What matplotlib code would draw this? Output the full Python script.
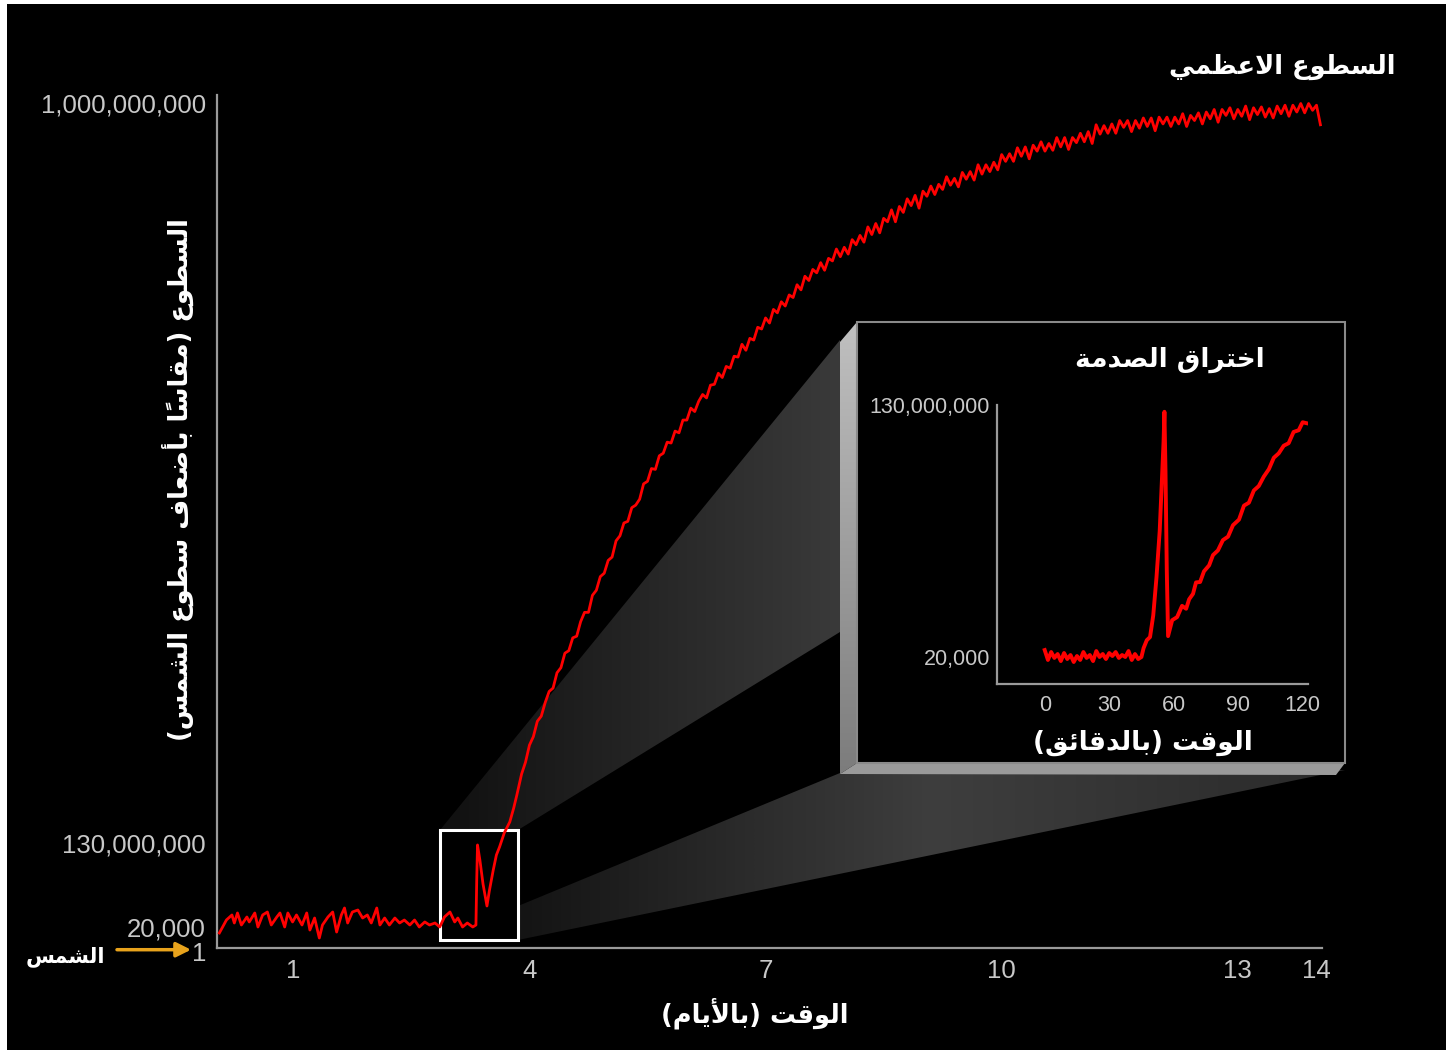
import numpy as np
import matplotlib
matplotlib.use('Agg')
import matplotlib.pyplot as plt
import matplotlib.transforms as mtransforms
from matplotlib.colors import LinearSegmentedColormap
from matplotlib.patches import Polygon, Rectangle

# ---- data (brightness in millions of suns) ----
quiet_days = [0.06, 0.15, 0.22, 0.25, 0.29, 0.34, 0.41, 0.44, 0.51, 0.55, 0.61, 0.67,
              0.72, 0.79, 0.83, 0.89, 0.93, 0.99, 1.04, 1.11, 1.17, 1.21, 1.27, 1.33,
              1.37, 1.44, 1.50, 1.55, 1.61, 1.65, 1.69, 1.75, 1.82, 1.88, 1.94, 1.99,
              2.06, 2.10, 2.16, 2.22, 2.29, 2.35, 2.41, 2.48, 2.54, 2.60, 2.67, 2.73,
              2.80, 2.86, 2.92, 2.99, 3.05, 3.09, 3.15, 3.21, 3.28, 3.32]
quiet_msun = [0.0143, 10.9, 18.6, 6.2, 21.7, 3.1, 15.5, 7.8, 21.7, 0.02, 18.6, 23.2,
              3.1, 15.5, 21.7, 0.02, 21.7, 7.8, 18.6, 3.1, 21.7, 0.0171, 13.9, 0.0095,
              3.1, 15.5, 23.2, 0.0152, 18.6, 29.4, 6.2, 23.2, 26.3, 13.9, 18.6, 6.2,
              29.4, 3.1, 13.9, 3.1, 13.9, 6.2, 10.8, 3.1, 10.8, 0.02, 7.8, 3.1,
              6.2, 0.02, 15.5, 23.2, 7.8, 13.9, 0.02, 6.2, 0.02, 3.1]

breakout_days = [3.33, 3.34, 3.37, 3.41, 3.46, 3.49, 3.54, 3.58, 3.62, 3.68, 3.75, 3.80, 3.84]
breakout_msun = [72.7, 126.9, 103.7, 66.5, 32.5, 55.7, 88.2, 111.4, 123.8, 141.8, 154.7, 171.1, 186.4]

rise_days = [3.90, 3.95, 4.00, 4.05, 4.10, 4.15, 4.20, 4.25, 4.30, 4.35, 4.40, 4.45,
             4.50, 4.55, 4.60, 4.65, 4.70, 4.75, 4.80, 4.85, 4.90, 4.95, 5.00, 5.05,
             5.10, 5.15, 5.20, 5.25, 5.30, 5.35, 5.40, 5.45, 5.50, 5.55, 5.60, 5.65,
             5.70, 5.75, 5.80, 5.85, 5.90, 5.95, 6.00, 6.05, 6.10, 6.15, 6.20, 6.25,
             6.30, 6.35, 6.40, 6.45, 6.50, 6.55, 6.60, 6.65, 6.70, 6.75, 6.80, 6.85,
             6.90, 6.95, 7.00, 7.05, 7.10, 7.15, 7.20, 7.25, 7.30, 7.35]
rise_msun = [211, 225, 245, 255, 273, 279, 295, 308, 312, 330, 336, 353,
             356, 371, 373, 390, 401, 401, 421, 427, 443, 447, 462, 466,
             485, 491, 506, 508, 524, 527, 534, 552, 555, 570, 569, 585,
             588, 601, 600, 614, 612, 627, 627, 641, 637, 649, 657, 653,
             668, 669, 682, 677, 690, 688, 702, 701, 716, 709, 723, 721,
             736, 734, 747, 741, 757, 753, 766, 761, 774, 771]

peak_days = [7.40, 7.45, 7.50, 7.55, 7.60, 7.65, 7.70, 7.75, 7.80, 7.85, 7.90, 7.95,
             8.00, 8.05, 8.10, 8.15, 8.20, 8.25, 8.30, 8.35, 8.40, 8.45, 8.50, 8.55,
             8.60, 8.65, 8.70, 8.75, 8.80, 8.85, 8.90, 8.95, 9.00, 9.05, 9.10, 9.15,
             9.20, 9.25, 9.30, 9.35, 9.40, 9.45, 9.50, 9.55, 9.60, 9.65, 9.70, 9.75,
             9.80, 9.85, 9.90, 9.95, 10.00, 10.05, 10.10, 10.15, 10.20, 10.25, 10.30, 10.35,
             10.40, 10.45, 10.50, 10.55, 10.60, 10.65, 10.70, 10.75, 10.80, 10.85, 10.90, 10.95,
             11.00, 11.05, 11.10, 11.15, 11.20, 11.25, 11.30, 11.35, 11.40, 11.45, 11.50, 11.55,
             11.60, 11.65, 11.70, 11.75, 11.80, 11.85, 11.90, 11.95, 12.00, 12.05, 12.10, 12.15,
             12.20, 12.25, 12.30, 12.35, 12.40, 12.45, 12.50, 12.55, 12.60, 12.65, 12.70, 12.75,
             12.80, 12.85, 12.90, 12.95, 13.00, 13.05, 13.10, 13.15, 13.20, 13.25, 13.30, 13.35,
             13.40, 13.45, 13.50, 13.55, 13.60, 13.65, 13.70, 13.75, 13.80, 13.85, 13.90, 13.95,
             14.00, 14.05]
peak_msun = [786, 780, 796, 791, 804, 800, 812, 803, 817, 814, 828, 819,
             830, 822, 839, 833, 844, 836, 854, 845, 858, 847, 864, 860,
             874, 860, 878, 871, 887, 879, 891, 876, 896, 890, 902, 892,
             904, 898, 913, 903, 911, 901, 918, 910, 919, 909, 927, 916,
             927, 919, 930, 921, 939, 931, 940, 931, 947, 937, 948, 934,
             950, 943, 954, 943, 952, 944, 959, 948, 959, 945, 959, 953,
             964, 954, 966, 952, 974, 963, 973, 964, 975, 964, 979, 971,
             979, 966, 979, 970, 982, 972, 982, 967, 983, 975, 983, 972,
             983, 975, 987, 972, 985, 979, 988, 975, 989, 981, 992, 977,
             992, 985, 994, 981, 992, 984, 996, 980, 994, 986, 995, 983,
             993, 982, 996, 987, 997, 984, 997, 989, 999, 988, 999, 991,
             997, 974]

# inset: shock breakout, time in minutes
inset_quiet_min = [0, 1.5, 3, 4.5, 6, 7.5, 9, 10.5, 12, 13.5, 15, 16.5, 18, 19.5, 21, 22.5,
                   24, 25.5, 27, 28.5, 30, 31.5, 33, 34.5, 36, 37.5, 39, 40.5, 42, 43.5, 45]
inset_quiet_msun = [3.6, 0.0178, 2.58, 0.0193, 1.56, 0.017, 2.07, 0.0185, 1.04, 0.0163, 0.53,
                    0.0178, 2.58, 0.0193, 1.04, 0.017, 3.09, 0.02, 1.56, 0.0185, 2.07, 0.53,
                    2.58, 0.0193, 1.04, 0.02, 3.09, 0.0178, 1.56, 0.0185, 0.02]
inset_flash_min = [46.0, 47.5, 49.0, 50.5, 52.0, 53.5, 54.5, 55.3, 55.7, 56.2, 56.8, 57.4]
inset_flash_msun = [4.6, 8.7, 10.3, 21.5, 41.0, 65.0, 90.6, 111.1, 126.5, 95.8, 44.6, 10.8]
inset_rise_min = [59.3, 61.6, 63.9, 65.8, 67.2, 69.0, 70.4, 72.3, 74.1, 76.5, 78.3, 80.6,
                  82.9, 85.3, 87.6, 90.4, 92.7, 95.0, 97.3, 99.6, 101.9, 104.3, 106.6, 108.9,
                  111.2, 113.5, 115.8, 118.2, 120.0, 121.9]
inset_rise_msun = [19.0, 20.6, 26.4, 24.9, 29.8, 32.6, 38.5, 38.7, 44.2, 47.3, 52.6, 55.0,
                   60.3, 62.1, 68.0, 70.9, 78.1, 79.6, 85.9, 88.2, 93.0, 96.9, 102.8, 105.1,
                   109.0, 110.3, 116.1, 117.0, 121.1, 120.6]

main_x_ticks = [1, 4, 7, 10, 13, 14]
main_y_ticks = [1e-6, 0.02, 130, 1000]
main_y_labels = ['1', '20,000', '130,000,000', '1,000,000,000']
inset_x_ticks = [0, 30, 60, 90, 120]
inset_y_ticks = [0.02, 130]
inset_y_labels = ['20,000', '130,000,000']
zoom_days = (2.86, 3.85)
zoom_msun = (0.0076, 145)

# the y axis is schematic: piecewise linear between the labelled values
main_knots = ([1e-6, 0.02, 130, 1000, 2000], [0, 21, 105, 845, 1695.6])
inset_knots = ([1e-6, 0.02, 130, 1000], [0, 27, 279, 1965])

# ---- Arabic text: shape letters and put them in visual order ----
FORMS = {
    'ء': (0xFE80, 1), 'آ': (0xFE81, 2), 'أ': (0xFE83, 2), 'ؤ': (0xFE85, 2), 'إ': (0xFE87, 2),
    'ئ': (0xFE89, 4), 'ا': (0xFE8D, 2), 'ب': (0xFE8F, 4), 'ة': (0xFE93, 2), 'ت': (0xFE95, 4),
    'ث': (0xFE99, 4), 'ج': (0xFE9D, 4), 'ح': (0xFEA1, 4), 'خ': (0xFEA5, 4), 'د': (0xFEA9, 2),
    'ذ': (0xFEAB, 2), 'ر': (0xFEAD, 2), 'ز': (0xFEAF, 2), 'س': (0xFEB1, 4), 'ش': (0xFEB5, 4),
    'ص': (0xFEB9, 4), 'ض': (0xFEBD, 4), 'ط': (0xFEC1, 4), 'ظ': (0xFEC5, 4), 'ع': (0xFEC9, 4),
    'غ': (0xFECD, 4), 'ف': (0xFED1, 4), 'ق': (0xFED5, 4), 'ك': (0xFED9, 4), 'ل': (0xFEDD, 4),
    'م': (0xFEE1, 4), 'ن': (0xFEE5, 4), 'ه': (0xFEE9, 4), 'و': (0xFEED, 2), 'ى': (0xFEEF, 2),
    'ي': (0xFEF1, 4),
}
LAM_ALEF = {'آ': 0xFEF5, 'أ': 0xFEF7, 'إ': 0xFEF9, 'ا': 0xFEFB}
MARKS = set(chr(c) for c in range(0x064B, 0x0653))
MIRROR = {'(': ')', ')': '('}


def arabic(text):
    toks = []
    i = 0
    while i < len(text):
        ch = text[i]
        if ch in MARKS and toks:
            toks[-1][3] += ch
        elif ch == 'ل' and i + 1 < len(text) and text[i + 1] in LAM_ALEF:
            toks.append([LAM_ALEF[text[i + 1]], 2, None, ''])
            i += 1
        elif ch in FORMS:
            base, n = FORMS[ch]
            toks.append([base, n, None, ''])
        else:
            toks.append([None, 0, MIRROR.get(ch, ch), ''])
        i += 1
    out = []
    for k, (base, n, ch, marks) in enumerate(toks):
        if base is None:
            out.append(ch + marks)
            continue
        prev_joins = n >= 2 and k > 0 and toks[k - 1][1] == 4
        next_joins = n == 4 and k + 1 < len(toks) and toks[k + 1][1] >= 2
        if prev_joins:
            form = 3 if next_joins else 1
        else:
            form = 2 if next_joins else 0
        out.append(chr(base + form) + marks)
    return ''.join(reversed(out))


def piecewise(knots):
    vals, pos = knots
    fwd = lambda v: np.interp(v, vals, pos)
    inv = lambda p: np.interp(p, pos, vals)
    return fwd, inv


def gradient_fill(ax, verts, colors, vertical=False):
    poly = Polygon(verts, closed=True, facecolor='none', edgecolor='none')
    ax.add_patch(poly)
    xs = [v[0] for v in verts]
    ys = [v[1] for v in verts]
    grad = np.linspace(0, 1, 256).reshape(1, -1)
    if vertical:
        grad = grad.T
    cmap = LinearSegmentedColormap.from_list('beam', colors)
    im = ax.imshow(grad, cmap=cmap, aspect='auto', interpolation='bicubic',
                   extent=(min(xs), max(xs), max(ys), min(ys)), zorder=1)
    im.set_clip_path(poly)


NUM_FONT = ['Liberation Sans', 'DejaVu Sans']
AR_FONT = ['DejaVu Sans']
TICK_C = '#c8c8c8'
SPINE_C = '#9a9a9a'

fig = plt.figure(figsize=(14.56, 10.59), dpi=100, facecolor='white')

# background layer in pixel coordinates
bg = fig.add_axes([0, 0, 1, 1], zorder=0)
bg.set_xlim(0, 1456)
bg.set_ylim(1059, 0)
bg.axis('off')
bg.add_patch(Rectangle((7, 4), 1439, 1046, facecolor='black', edgecolor='none', zorder=0))
gradient_fill(bg, [(440, 830), (840, 340), (840, 632), (518, 830)], ['#101010', '#3a3a3a'])
gradient_fill(bg, [(518, 906), (840, 773), (1345, 770), (518, 940)],
              ['#141414', '#3e3e3e', '#2a2a2a'])
gradient_fill(bg, [(840, 342), (857, 322), (857, 763), (840, 774)], ['#c0c0c0', '#7c7c7c'],
              vertical=True)
bg.add_patch(Polygon([(840, 774), (857, 763), (1345, 763), (1336, 775)], closed=True,
                     facecolor='#9a9a9a', edgecolor='none', zorder=2))
bg.add_patch(Rectangle((857, 322), 488, 441, facecolor='black', edgecolor='#8a8a8a',
                       lw=1.5, zorder=2))
bg.set_xlim(0, 1456)
bg.set_ylim(1059, 0)

# main chart
ax = fig.add_axes([0.14904, 0.10482, 0.75893, 0.80548], zorder=1)
ax.set_facecolor('none')
ax.set_yscale('function', functions=piecewise(main_knots))
ax.plot(quiet_days + breakout_days + rise_days + peak_days,
        quiet_msun + breakout_msun + rise_msun + peak_msun,
        color='#ff0000', lw=2.0, zorder=3, solid_joinstyle='round')
ax.add_patch(Rectangle((zoom_days[0], zoom_msun[0]), zoom_days[1] - zoom_days[0],
                       zoom_msun[1] - zoom_msun[0], facecolor='none', edgecolor='white',
                       lw=2.2, zorder=2))
ax.set_xlim(0.03, 14.07)
ax.set_ylim(1e-6, 1009)
ax.set_xticks(main_x_ticks)
ax.set_xticklabels([str(t) for t in main_x_ticks], family=NUM_FONT, fontsize=18.5, color=TICK_C)
ax.set_yticks(main_y_ticks)
ax.set_yticklabels(main_y_labels, family=NUM_FONT, fontsize=18.5, color=TICK_C)
ax.minorticks_off()
ax.tick_params(axis='x', length=0, pad=8)
ax.tick_params(axis='y', length=0, pad=8)
# the "1" label sits a touch below the axis line, as in the original
one_label = ax.get_yticklabels()[0]
one_label.set_transform(one_label.get_transform()
                        + mtransforms.ScaledTranslation(0, -4 / 100, fig.dpi_scale_trans))
for side in ('top', 'right'):
    ax.spines[side].set_visible(False)
for side in ('left', 'bottom'):
    ax.spines[side].set_color(SPINE_C)
    ax.spines[side].set_linewidth(1.6)

ax.set_xlabel(arabic('الوقت (بالأيام)'), family=AR_FONT, fontweight='bold', fontsize=18.5,
              color='white', va='center')
ax.xaxis.set_label_coords(0.487, -0.076)
ax.set_ylabel(arabic('السطوع (مقاساً بأضعاف سطوع الشمس)'), family=AR_FONT, fontweight='bold',
              fontsize=18.5, color='white', va='center')
ax.yaxis.set_label_coords(-0.035, 0.549)
ax.text(0.964, 1.033, arabic('السطوع الاعظمي'), transform=ax.transAxes, family=AR_FONT,
        fontweight='bold', fontsize=18.5, color='white', ha='center', va='center')
ax.text(-0.137, -0.010, arabic('الشمس'), transform=ax.transAxes, family=AR_FONT,
        fontweight='bold', fontsize=15, color='white', ha='center', va='center')
ax.annotate('', xy=(-0.0235, -0.002), xytext=(-0.0905, -0.002), xycoords='axes fraction',
            textcoords='axes fraction', annotation_clip=False,
            arrowprops=dict(arrowstyle='-|>', color='#e8a31c', lw=2.5, mutation_scale=22,
                            shrinkA=0, shrinkB=0))

# inset: shock breakout
ax_in = fig.add_axes([0.68475, 0.35411, 0.21360, 0.26346], zorder=3)
ax_in.set_facecolor('none')
ax_in.set_yscale('function', functions=piecewise(inset_knots))
ax_in.plot(inset_quiet_min + inset_flash_min + inset_rise_min,
           inset_quiet_msun + inset_flash_msun + inset_rise_msun,
           color='#ff0000', lw=2.8, solid_joinstyle='round')
ax_in.set_xlim(-22.2, 122.5)
ax_in.set_ylim(1e-6, 130)
ax_in.set_xticks(inset_x_ticks)
ax_in.set_xticklabels([str(t) for t in inset_x_ticks], family=NUM_FONT, fontsize=15.5,
                      color=TICK_C)
ax_in.set_yticks(inset_y_ticks)
ax_in.set_yticklabels(inset_y_labels, family=NUM_FONT, fontsize=15.5, color=TICK_C)
ax_in.minorticks_off()
ax_in.tick_params(axis='x', length=0, pad=8)
ax_in.tick_params(axis='y', length=0, pad=5)
for side in ('top', 'right'):
    ax_in.spines[side].set_visible(False)
for side in ('left', 'bottom'):
    ax_in.spines[side].set_color(SPINE_C)
    ax_in.spines[side].set_linewidth(1.6)
ax_in.set_xlabel(arabic('الوقت (بالدقائق)'), family=AR_FONT, fontweight='bold', fontsize=19,
                 color='white', va='center')
ax_in.xaxis.set_label_coords(0.469, -0.211)
ax_in.text(0.556, 1.161, arabic('اختراق الصدمة'), transform=ax_in.transAxes, family=AR_FONT,
           fontweight='bold', fontsize=19, color='white', ha='center', va='center')

fig.savefig('out.png', dpi=100, facecolor='white')
